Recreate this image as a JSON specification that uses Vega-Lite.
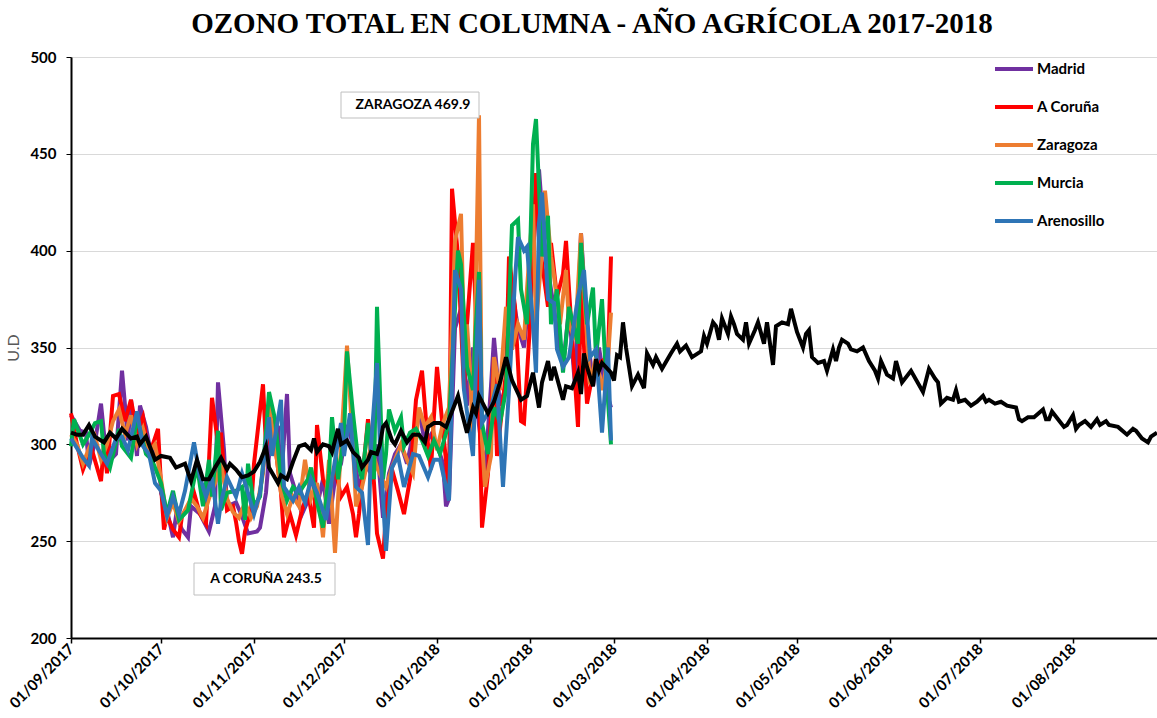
{
"$schema":"https://vega.github.io/schema/vega-lite/v6.json",
"width":1086,"height":581,
"autosize":{"type":"none"},
"padding":{"left":71,"top":57,"right":0,"bottom":80},
"background":"white",
"config":{"view":{"stroke":null},"font":"Lato"},
"title":{"text":"OZONO TOTAL EN COLUMNA - AÑO AGRÍCOLA 2017-2018","font":"Liberation Serif","fontSize":29,"fontWeight":"bold","color":"black","anchor":"middle","frame":"group","dx":-22,"offset":9},
"datasets":{
"cities":[
{"s":"Madrid","d":"2017-09-01","v":315},{"s":"Madrid","d":"2017-09-04","v":307},{"s":"Madrid","d":"2017-09-06","v":306},{"s":"Madrid","d":"2017-09-07","v":289},{"s":"Madrid","d":"2017-09-09","v":301},{"s":"Madrid","d":"2017-09-11","v":321},{"s":"Madrid","d":"2017-09-13","v":290},{"s":"Madrid","d":"2017-09-16","v":295},{"s":"Madrid","d":"2017-09-18","v":338},{"s":"Madrid","d":"2017-09-20","v":302},{"s":"Madrid","d":"2017-09-21","v":323},{"s":"Madrid","d":"2017-09-23","v":294},{"s":"Madrid","d":"2017-09-24","v":320},{"s":"Madrid","d":"2017-09-26","v":309},{"s":"Madrid","d":"2017-09-28","v":292},{"s":"Madrid","d":"2017-09-30","v":301},
{"s":"Madrid","d":"2017-10-01","v":275},{"s":"Madrid","d":"2017-10-03","v":266},{"s":"Madrid","d":"2017-10-05","v":252},{"s":"Madrid","d":"2017-10-06","v":263},{"s":"Madrid","d":"2017-10-08","v":256},{"s":"Madrid","d":"2017-10-10","v":252},{"s":"Madrid","d":"2017-10-11","v":268},{"s":"Madrid","d":"2017-10-14","v":264},{"s":"Madrid","d":"2017-10-17","v":255},{"s":"Madrid","d":"2017-10-19","v":268},{"s":"Madrid","d":"2017-10-20","v":332},{"s":"Madrid","d":"2017-10-22","v":297},{"s":"Madrid","d":"2017-10-23","v":268},{"s":"Madrid","d":"2017-10-26","v":270},{"s":"Madrid","d":"2017-10-28","v":263},{"s":"Madrid","d":"2017-10-30","v":254},
{"s":"Madrid","d":"2017-11-02","v":255},{"s":"Madrid","d":"2017-11-03","v":257},{"s":"Madrid","d":"2017-11-05","v":275},{"s":"Madrid","d":"2017-11-07","v":313},{"s":"Madrid","d":"2017-11-09","v":309},{"s":"Madrid","d":"2017-11-10","v":280},{"s":"Madrid","d":"2017-11-12","v":326},{"s":"Madrid","d":"2017-11-13","v":285},{"s":"Madrid","d":"2017-11-15","v":275},{"s":"Madrid","d":"2017-11-17","v":264},{"s":"Madrid","d":"2017-11-19","v":271},{"s":"Madrid","d":"2017-11-20","v":287},{"s":"Madrid","d":"2017-11-22","v":268},{"s":"Madrid","d":"2017-11-24","v":282},{"s":"Madrid","d":"2017-11-26","v":259},{"s":"Madrid","d":"2017-11-28","v":282},{"s":"Madrid","d":"2017-11-30","v":290},
{"s":"Madrid","d":"2017-12-02","v":310},{"s":"Madrid","d":"2017-12-04","v":300},{"s":"Madrid","d":"2017-12-06","v":276},{"s":"Madrid","d":"2017-12-08","v":290},{"s":"Madrid","d":"2017-12-10","v":285},{"s":"Madrid","d":"2017-12-12","v":300},{"s":"Madrid","d":"2017-12-14","v":262},{"s":"Madrid","d":"2017-12-16","v":285},{"s":"Madrid","d":"2017-12-18","v":295},{"s":"Madrid","d":"2017-12-20","v":300},{"s":"Madrid","d":"2017-12-22","v":290},{"s":"Madrid","d":"2017-12-24","v":305},{"s":"Madrid","d":"2017-12-26","v":318},{"s":"Madrid","d":"2017-12-28","v":300},{"s":"Madrid","d":"2017-12-30","v":305},
{"s":"Madrid","d":"2018-01-01","v":300},{"s":"Madrid","d":"2018-01-03","v":290},{"s":"Madrid","d":"2018-01-04","v":268},{"s":"Madrid","d":"2018-01-05","v":272},{"s":"Madrid","d":"2018-01-07","v":360},{"s":"Madrid","d":"2018-01-09","v":370},{"s":"Madrid","d":"2018-01-11","v":320},{"s":"Madrid","d":"2018-01-13","v":350},{"s":"Madrid","d":"2018-01-15","v":310},{"s":"Madrid","d":"2018-01-17","v":285},{"s":"Madrid","d":"2018-01-19","v":330},{"s":"Madrid","d":"2018-01-20","v":355},{"s":"Madrid","d":"2018-01-22","v":320},{"s":"Madrid","d":"2018-01-24","v":330},{"s":"Madrid","d":"2018-01-26","v":380},{"s":"Madrid","d":"2018-01-28","v":360},{"s":"Madrid","d":"2018-01-30","v":350},
{"s":"Madrid","d":"2018-02-01","v":380},{"s":"Madrid","d":"2018-02-03","v":420},{"s":"Madrid","d":"2018-02-04","v":442},{"s":"Madrid","d":"2018-02-06","v":400},{"s":"Madrid","d":"2018-02-08","v":380},{"s":"Madrid","d":"2018-02-10","v":360},{"s":"Madrid","d":"2018-02-12","v":340},{"s":"Madrid","d":"2018-02-14","v":370},{"s":"Madrid","d":"2018-02-16","v":330},{"s":"Madrid","d":"2018-02-18","v":409},{"s":"Madrid","d":"2018-02-20","v":360},{"s":"Madrid","d":"2018-02-22","v":330},{"s":"Madrid","d":"2018-02-24","v":350},{"s":"Madrid","d":"2018-02-26","v":330},{"s":"Madrid","d":"2018-02-28","v":319},
{"s":"A Coruña","d":"2017-09-01","v":316},{"s":"A Coruña","d":"2017-09-03","v":300},{"s":"A Coruña","d":"2017-09-05","v":287},{"s":"A Coruña","d":"2017-09-06","v":291},{"s":"A Coruña","d":"2017-09-08","v":297},{"s":"A Coruña","d":"2017-09-11","v":281},{"s":"A Coruña","d":"2017-09-12","v":300},{"s":"A Coruña","d":"2017-09-13","v":285},{"s":"A Coruña","d":"2017-09-15","v":325},{"s":"A Coruña","d":"2017-09-17","v":326},{"s":"A Coruña","d":"2017-09-19","v":312},{"s":"A Coruña","d":"2017-09-21","v":323},{"s":"A Coruña","d":"2017-09-23","v":306},{"s":"A Coruña","d":"2017-09-25","v":314},{"s":"A Coruña","d":"2017-09-27","v":294},{"s":"A Coruña","d":"2017-09-30","v":308},
{"s":"A Coruña","d":"2017-10-01","v":279},{"s":"A Coruña","d":"2017-10-02","v":256},{"s":"A Coruña","d":"2017-10-03","v":263},{"s":"A Coruña","d":"2017-10-05","v":256},{"s":"A Coruña","d":"2017-10-07","v":252},{"s":"A Coruña","d":"2017-10-08","v":263},{"s":"A Coruña","d":"2017-10-10","v":268},{"s":"A Coruña","d":"2017-10-12","v":275},{"s":"A Coruña","d":"2017-10-14","v":264},{"s":"A Coruña","d":"2017-10-16","v":259},{"s":"A Coruña","d":"2017-10-18","v":324},{"s":"A Coruña","d":"2017-10-20","v":300},{"s":"A Coruña","d":"2017-10-21","v":306},{"s":"A Coruña","d":"2017-10-23","v":266},{"s":"A Coruña","d":"2017-10-25","v":268},{"s":"A Coruña","d":"2017-10-26","v":260},{"s":"A Coruña","d":"2017-10-27","v":250},{"s":"A Coruña","d":"2017-10-28","v":243.5},{"s":"A Coruña","d":"2017-10-29","v":255},{"s":"A Coruña","d":"2017-10-31","v":266},
{"s":"A Coruña","d":"2017-11-01","v":290},{"s":"A Coruña","d":"2017-11-04","v":331},{"s":"A Coruña","d":"2017-11-05","v":299},{"s":"A Coruña","d":"2017-11-07","v":313},{"s":"A Coruña","d":"2017-11-10","v":275},{"s":"A Coruña","d":"2017-11-11","v":252},{"s":"A Coruña","d":"2017-11-13","v":264},{"s":"A Coruña","d":"2017-11-15","v":253},{"s":"A Coruña","d":"2017-11-17","v":266},{"s":"A Coruña","d":"2017-11-19","v":275},{"s":"A Coruña","d":"2017-11-21","v":257},{"s":"A Coruña","d":"2017-11-22","v":310},{"s":"A Coruña","d":"2017-11-24","v":282},{"s":"A Coruña","d":"2017-11-26","v":275},{"s":"A Coruña","d":"2017-11-28","v":288},{"s":"A Coruña","d":"2017-11-30","v":273},
{"s":"A Coruña","d":"2017-12-02","v":278},{"s":"A Coruña","d":"2017-12-04","v":264},{"s":"A Coruña","d":"2017-12-05","v":252},{"s":"A Coruña","d":"2017-12-06","v":264},{"s":"A Coruña","d":"2017-12-09","v":313},{"s":"A Coruña","d":"2017-12-11","v":280},{"s":"A Coruña","d":"2017-12-12","v":254},{"s":"A Coruña","d":"2017-12-14","v":241},{"s":"A Coruña","d":"2017-12-15","v":264},{"s":"A Coruña","d":"2017-12-17","v":287},{"s":"A Coruña","d":"2017-12-19","v":276},{"s":"A Coruña","d":"2017-12-21","v":264},{"s":"A Coruña","d":"2017-12-23","v":282},{"s":"A Coruña","d":"2017-12-25","v":323},{"s":"A Coruña","d":"2017-12-27","v":338},{"s":"A Coruña","d":"2017-12-29","v":300},{"s":"A Coruña","d":"2017-12-30","v":287},{"s":"A Coruña","d":"2017-12-31","v":315},
{"s":"A Coruña","d":"2018-01-01","v":340},{"s":"A Coruña","d":"2018-01-03","v":307},{"s":"A Coruña","d":"2018-01-05","v":276},{"s":"A Coruña","d":"2018-01-06","v":432},{"s":"A Coruña","d":"2018-01-08","v":397},{"s":"A Coruña","d":"2018-01-10","v":328},{"s":"A Coruña","d":"2018-01-11","v":362},{"s":"A Coruña","d":"2018-01-13","v":404},{"s":"A Coruña","d":"2018-01-15","v":328},{"s":"A Coruña","d":"2018-01-16","v":257},{"s":"A Coruña","d":"2018-01-18","v":285},{"s":"A Coruña","d":"2018-01-20","v":345},{"s":"A Coruña","d":"2018-01-21","v":294},{"s":"A Coruña","d":"2018-01-24","v":337},{"s":"A Coruña","d":"2018-01-25","v":397},{"s":"A Coruña","d":"2018-01-27","v":371},{"s":"A Coruña","d":"2018-01-29","v":312},{"s":"A Coruña","d":"2018-01-30","v":311},
{"s":"A Coruña","d":"2018-02-01","v":362},{"s":"A Coruña","d":"2018-02-03","v":440},{"s":"A Coruña","d":"2018-02-04","v":405},{"s":"A Coruña","d":"2018-02-07","v":371},{"s":"A Coruña","d":"2018-02-08","v":404},{"s":"A Coruña","d":"2018-02-10","v":376},{"s":"A Coruña","d":"2018-02-12","v":388},{"s":"A Coruña","d":"2018-02-13","v":405},{"s":"A Coruña","d":"2018-02-14","v":380},{"s":"A Coruña","d":"2018-02-17","v":309},{"s":"A Coruña","d":"2018-02-18","v":380},{"s":"A Coruña","d":"2018-02-20","v":321},{"s":"A Coruña","d":"2018-02-22","v":337},{"s":"A Coruña","d":"2018-02-24","v":342},{"s":"A Coruña","d":"2018-02-27","v":345},{"s":"A Coruña","d":"2018-02-28","v":397},
{"s":"Zaragoza","d":"2017-09-01","v":305},{"s":"Zaragoza","d":"2017-09-03","v":300},{"s":"Zaragoza","d":"2017-09-05","v":290},{"s":"Zaragoza","d":"2017-09-07","v":298},{"s":"Zaragoza","d":"2017-09-09","v":304},{"s":"Zaragoza","d":"2017-09-11","v":292},{"s":"Zaragoza","d":"2017-09-13","v":300},{"s":"Zaragoza","d":"2017-09-15","v":312},{"s":"Zaragoza","d":"2017-09-17","v":318},{"s":"Zaragoza","d":"2017-09-19","v":305},{"s":"Zaragoza","d":"2017-09-21","v":315},{"s":"Zaragoza","d":"2017-09-23","v":300},{"s":"Zaragoza","d":"2017-09-25","v":308},{"s":"Zaragoza","d":"2017-09-27","v":296},{"s":"Zaragoza","d":"2017-09-29","v":300},
{"s":"Zaragoza","d":"2017-10-01","v":282},{"s":"Zaragoza","d":"2017-10-03","v":262},{"s":"Zaragoza","d":"2017-10-05","v":270},{"s":"Zaragoza","d":"2017-10-07","v":260},{"s":"Zaragoza","d":"2017-10-09","v":266},{"s":"Zaragoza","d":"2017-10-11","v":272},{"s":"Zaragoza","d":"2017-10-13","v":268},{"s":"Zaragoza","d":"2017-10-15","v":262},{"s":"Zaragoza","d":"2017-10-17","v":272},{"s":"Zaragoza","d":"2017-10-19","v":280},{"s":"Zaragoza","d":"2017-10-21","v":290},{"s":"Zaragoza","d":"2017-10-23","v":272},{"s":"Zaragoza","d":"2017-10-25","v":265},{"s":"Zaragoza","d":"2017-10-27","v":262},{"s":"Zaragoza","d":"2017-10-29","v":270},{"s":"Zaragoza","d":"2017-10-31","v":262},
{"s":"Zaragoza","d":"2017-11-02","v":268},{"s":"Zaragoza","d":"2017-11-04","v":285},{"s":"Zaragoza","d":"2017-11-06","v":320},{"s":"Zaragoza","d":"2017-11-08","v":300},{"s":"Zaragoza","d":"2017-11-10","v":275},{"s":"Zaragoza","d":"2017-11-12","v":264},{"s":"Zaragoza","d":"2017-11-14","v":273},{"s":"Zaragoza","d":"2017-11-16","v":268},{"s":"Zaragoza","d":"2017-11-18","v":292},{"s":"Zaragoza","d":"2017-11-20","v":272},{"s":"Zaragoza","d":"2017-11-22","v":280},{"s":"Zaragoza","d":"2017-11-24","v":252},{"s":"Zaragoza","d":"2017-11-26","v":292},{"s":"Zaragoza","d":"2017-11-28","v":244},{"s":"Zaragoza","d":"2017-11-30","v":299},
{"s":"Zaragoza","d":"2017-12-02","v":351},{"s":"Zaragoza","d":"2017-12-04","v":299},{"s":"Zaragoza","d":"2017-12-05","v":268},{"s":"Zaragoza","d":"2017-12-07","v":278},{"s":"Zaragoza","d":"2017-12-10","v":299},{"s":"Zaragoza","d":"2017-12-12","v":288},{"s":"Zaragoza","d":"2017-12-15","v":278},{"s":"Zaragoza","d":"2017-12-17","v":288},{"s":"Zaragoza","d":"2017-12-20","v":300},{"s":"Zaragoza","d":"2017-12-22","v":292},{"s":"Zaragoza","d":"2017-12-24","v":285},{"s":"Zaragoza","d":"2017-12-26","v":319},{"s":"Zaragoza","d":"2017-12-28","v":309},{"s":"Zaragoza","d":"2017-12-30","v":314},
{"s":"Zaragoza","d":"2018-01-01","v":297},{"s":"Zaragoza","d":"2018-01-03","v":311},{"s":"Zaragoza","d":"2018-01-05","v":319},{"s":"Zaragoza","d":"2018-01-07","v":405},{"s":"Zaragoza","d":"2018-01-09","v":419},{"s":"Zaragoza","d":"2018-01-10","v":354},{"s":"Zaragoza","d":"2018-01-11","v":362},{"s":"Zaragoza","d":"2018-01-12","v":338},{"s":"Zaragoza","d":"2018-01-13","v":302},{"s":"Zaragoza","d":"2018-01-15","v":469.9},{"s":"Zaragoza","d":"2018-01-16","v":302},{"s":"Zaragoza","d":"2018-01-17","v":278},{"s":"Zaragoza","d":"2018-01-19","v":294},{"s":"Zaragoza","d":"2018-01-20","v":345},{"s":"Zaragoza","d":"2018-01-22","v":328},{"s":"Zaragoza","d":"2018-01-24","v":371},{"s":"Zaragoza","d":"2018-01-26","v":349},{"s":"Zaragoza","d":"2018-01-28","v":362},{"s":"Zaragoza","d":"2018-01-30","v":354},{"s":"Zaragoza","d":"2018-01-31","v":380},
{"s":"Zaragoza","d":"2018-02-02","v":424},{"s":"Zaragoza","d":"2018-02-03","v":362},{"s":"Zaragoza","d":"2018-02-05","v":400},{"s":"Zaragoza","d":"2018-02-06","v":431},{"s":"Zaragoza","d":"2018-02-08","v":397},{"s":"Zaragoza","d":"2018-02-09","v":387},{"s":"Zaragoza","d":"2018-02-11","v":362},{"s":"Zaragoza","d":"2018-02-13","v":390},{"s":"Zaragoza","d":"2018-02-14","v":362},{"s":"Zaragoza","d":"2018-02-16","v":354},{"s":"Zaragoza","d":"2018-02-18","v":409},{"s":"Zaragoza","d":"2018-02-19","v":380},{"s":"Zaragoza","d":"2018-02-21","v":331},{"s":"Zaragoza","d":"2018-02-23","v":345},{"s":"Zaragoza","d":"2018-02-25","v":328},{"s":"Zaragoza","d":"2018-02-27","v":344},{"s":"Zaragoza","d":"2018-02-28","v":368},
{"s":"Murcia","d":"2017-09-01","v":299},{"s":"Murcia","d":"2017-09-02","v":313},{"s":"Murcia","d":"2017-09-05","v":300},{"s":"Murcia","d":"2017-09-07","v":305},{"s":"Murcia","d":"2017-09-09","v":311},{"s":"Murcia","d":"2017-09-11","v":312},{"s":"Murcia","d":"2017-09-12","v":295},{"s":"Murcia","d":"2017-09-14","v":288},{"s":"Murcia","d":"2017-09-17","v":308},{"s":"Murcia","d":"2017-09-18","v":299},{"s":"Murcia","d":"2017-09-21","v":293},{"s":"Murcia","d":"2017-09-23","v":314},{"s":"Murcia","d":"2017-09-26","v":295},{"s":"Murcia","d":"2017-09-28","v":292},
{"s":"Murcia","d":"2017-10-01","v":280},{"s":"Murcia","d":"2017-10-03","v":264},{"s":"Murcia","d":"2017-10-05","v":276},{"s":"Murcia","d":"2017-10-07","v":261},{"s":"Murcia","d":"2017-10-10","v":266},{"s":"Murcia","d":"2017-10-13","v":289},{"s":"Murcia","d":"2017-10-15","v":268},{"s":"Murcia","d":"2017-10-17","v":292},{"s":"Murcia","d":"2017-10-18","v":273},{"s":"Murcia","d":"2017-10-20","v":307},{"s":"Murcia","d":"2017-10-21","v":266},{"s":"Murcia","d":"2017-10-23","v":275},{"s":"Murcia","d":"2017-10-26","v":276},{"s":"Murcia","d":"2017-10-28","v":278},{"s":"Murcia","d":"2017-10-29","v":261},{"s":"Murcia","d":"2017-10-30","v":290},
{"s":"Murcia","d":"2017-11-01","v":268},{"s":"Murcia","d":"2017-11-03","v":273},{"s":"Murcia","d":"2017-11-05","v":306},{"s":"Murcia","d":"2017-11-06","v":327},{"s":"Murcia","d":"2017-11-08","v":313},{"s":"Murcia","d":"2017-11-10","v":282},{"s":"Murcia","d":"2017-11-12","v":271},{"s":"Murcia","d":"2017-11-14","v":278},{"s":"Murcia","d":"2017-11-16","v":275},{"s":"Murcia","d":"2017-11-19","v":282},{"s":"Murcia","d":"2017-11-20","v":288},{"s":"Murcia","d":"2017-11-22","v":270},{"s":"Murcia","d":"2017-11-24","v":257},{"s":"Murcia","d":"2017-11-26","v":285},{"s":"Murcia","d":"2017-11-27","v":314},{"s":"Murcia","d":"2017-11-29","v":282},
{"s":"Murcia","d":"2017-12-01","v":304},{"s":"Murcia","d":"2017-12-02","v":348},{"s":"Murcia","d":"2017-12-04","v":316},{"s":"Murcia","d":"2017-12-06","v":288},{"s":"Murcia","d":"2017-12-07","v":282},{"s":"Murcia","d":"2017-12-09","v":311},{"s":"Murcia","d":"2017-12-11","v":282},{"s":"Murcia","d":"2017-12-12","v":371},{"s":"Murcia","d":"2017-12-14","v":282},{"s":"Murcia","d":"2017-12-15","v":295},{"s":"Murcia","d":"2017-12-16","v":318},{"s":"Murcia","d":"2017-12-18","v":307},{"s":"Murcia","d":"2017-12-20","v":314},{"s":"Murcia","d":"2017-12-21","v":299},{"s":"Murcia","d":"2017-12-23","v":306},{"s":"Murcia","d":"2017-12-25","v":308},{"s":"Murcia","d":"2017-12-27","v":302},{"s":"Murcia","d":"2017-12-29","v":294},{"s":"Murcia","d":"2017-12-31","v":302},
{"s":"Murcia","d":"2018-01-02","v":295},{"s":"Murcia","d":"2018-01-05","v":311},{"s":"Murcia","d":"2018-01-08","v":400},{"s":"Murcia","d":"2018-01-09","v":393},{"s":"Murcia","d":"2018-01-11","v":340},{"s":"Murcia","d":"2018-01-13","v":328},{"s":"Murcia","d":"2018-01-14","v":362},{"s":"Murcia","d":"2018-01-15","v":389},{"s":"Murcia","d":"2018-01-16","v":311},{"s":"Murcia","d":"2018-01-18","v":295},{"s":"Murcia","d":"2018-01-20","v":319},{"s":"Murcia","d":"2018-01-22","v":311},{"s":"Murcia","d":"2018-01-24","v":328},{"s":"Murcia","d":"2018-01-26","v":413},{"s":"Murcia","d":"2018-01-28","v":416},{"s":"Murcia","d":"2018-01-29","v":380},{"s":"Murcia","d":"2018-01-31","v":362},
{"s":"Murcia","d":"2018-02-01","v":397},{"s":"Murcia","d":"2018-02-02","v":455},{"s":"Murcia","d":"2018-02-03","v":468},{"s":"Murcia","d":"2018-02-05","v":397},{"s":"Murcia","d":"2018-02-07","v":418},{"s":"Murcia","d":"2018-02-08","v":362},{"s":"Murcia","d":"2018-02-10","v":380},{"s":"Murcia","d":"2018-02-12","v":337},{"s":"Murcia","d":"2018-02-14","v":371},{"s":"Murcia","d":"2018-02-17","v":352},{"s":"Murcia","d":"2018-02-18","v":404},{"s":"Murcia","d":"2018-02-20","v":362},{"s":"Murcia","d":"2018-02-22","v":381},{"s":"Murcia","d":"2018-02-23","v":345},{"s":"Murcia","d":"2018-02-25","v":375},{"s":"Murcia","d":"2018-02-26","v":345},{"s":"Murcia","d":"2018-02-28","v":300},
{"s":"Arenosillo","d":"2017-09-01","v":303},{"s":"Arenosillo","d":"2017-09-05","v":293},{"s":"Arenosillo","d":"2017-09-07","v":289},{"s":"Arenosillo","d":"2017-09-08","v":303},{"s":"Arenosillo","d":"2017-09-11","v":295},{"s":"Arenosillo","d":"2017-09-13","v":290},{"s":"Arenosillo","d":"2017-09-16","v":303},{"s":"Arenosillo","d":"2017-09-18","v":304},{"s":"Arenosillo","d":"2017-09-20","v":297},{"s":"Arenosillo","d":"2017-09-23","v":317},{"s":"Arenosillo","d":"2017-09-25","v":299},{"s":"Arenosillo","d":"2017-09-27","v":295},{"s":"Arenosillo","d":"2017-09-29","v":280},
{"s":"Arenosillo","d":"2017-10-01","v":276},{"s":"Arenosillo","d":"2017-10-03","v":263},{"s":"Arenosillo","d":"2017-10-05","v":273},{"s":"Arenosillo","d":"2017-10-07","v":264},{"s":"Arenosillo","d":"2017-10-09","v":276},{"s":"Arenosillo","d":"2017-10-12","v":301},{"s":"Arenosillo","d":"2017-10-14","v":283},{"s":"Arenosillo","d":"2017-10-16","v":273},{"s":"Arenosillo","d":"2017-10-18","v":283},{"s":"Arenosillo","d":"2017-10-20","v":259},{"s":"Arenosillo","d":"2017-10-21","v":270},{"s":"Arenosillo","d":"2017-10-23","v":283},{"s":"Arenosillo","d":"2017-10-26","v":273},{"s":"Arenosillo","d":"2017-10-28","v":285},{"s":"Arenosillo","d":"2017-10-30","v":275},
{"s":"Arenosillo","d":"2017-11-01","v":264},{"s":"Arenosillo","d":"2017-11-03","v":275},{"s":"Arenosillo","d":"2017-11-06","v":314},{"s":"Arenosillo","d":"2017-11-07","v":294},{"s":"Arenosillo","d":"2017-11-10","v":323},{"s":"Arenosillo","d":"2017-11-11","v":278},{"s":"Arenosillo","d":"2017-11-14","v":271},{"s":"Arenosillo","d":"2017-11-16","v":278},{"s":"Arenosillo","d":"2017-11-18","v":270},{"s":"Arenosillo","d":"2017-11-20","v":282},{"s":"Arenosillo","d":"2017-11-22","v":275},{"s":"Arenosillo","d":"2017-11-25","v":261},{"s":"Arenosillo","d":"2017-11-27","v":282},{"s":"Arenosillo","d":"2017-11-30","v":311},
{"s":"Arenosillo","d":"2017-12-01","v":294},{"s":"Arenosillo","d":"2017-12-03","v":316},{"s":"Arenosillo","d":"2017-12-05","v":278},{"s":"Arenosillo","d":"2017-12-07","v":275},{"s":"Arenosillo","d":"2017-12-09","v":248},{"s":"Arenosillo","d":"2017-12-10","v":299},{"s":"Arenosillo","d":"2017-12-12","v":342},{"s":"Arenosillo","d":"2017-12-13","v":299},{"s":"Arenosillo","d":"2017-12-15","v":245},{"s":"Arenosillo","d":"2017-12-17","v":288},{"s":"Arenosillo","d":"2017-12-19","v":294},{"s":"Arenosillo","d":"2017-12-21","v":278},{"s":"Arenosillo","d":"2017-12-24","v":295},{"s":"Arenosillo","d":"2017-12-26","v":294},{"s":"Arenosillo","d":"2017-12-29","v":283},{"s":"Arenosillo","d":"2017-12-31","v":292},
{"s":"Arenosillo","d":"2018-01-02","v":292},{"s":"Arenosillo","d":"2018-01-04","v":278},{"s":"Arenosillo","d":"2018-01-05","v":271},{"s":"Arenosillo","d":"2018-01-07","v":390},{"s":"Arenosillo","d":"2018-01-09","v":380},{"s":"Arenosillo","d":"2018-01-10","v":328},{"s":"Arenosillo","d":"2018-01-13","v":294},{"s":"Arenosillo","d":"2018-01-15","v":385},{"s":"Arenosillo","d":"2018-01-16","v":311},{"s":"Arenosillo","d":"2018-01-19","v":319},{"s":"Arenosillo","d":"2018-01-21","v":331},{"s":"Arenosillo","d":"2018-01-23","v":278},{"s":"Arenosillo","d":"2018-01-25","v":328},{"s":"Arenosillo","d":"2018-01-27","v":385},{"s":"Arenosillo","d":"2018-01-28","v":407},{"s":"Arenosillo","d":"2018-01-30","v":400},{"s":"Arenosillo","d":"2018-01-31","v":402},
{"s":"Arenosillo","d":"2018-02-02","v":362},{"s":"Arenosillo","d":"2018-02-03","v":337},{"s":"Arenosillo","d":"2018-02-04","v":414},{"s":"Arenosillo","d":"2018-02-05","v":430},{"s":"Arenosillo","d":"2018-02-07","v":375},{"s":"Arenosillo","d":"2018-02-09","v":373},{"s":"Arenosillo","d":"2018-02-10","v":349},{"s":"Arenosillo","d":"2018-02-12","v":340},{"s":"Arenosillo","d":"2018-02-14","v":345},{"s":"Arenosillo","d":"2018-02-17","v":376},{"s":"Arenosillo","d":"2018-02-19","v":390},{"s":"Arenosillo","d":"2018-02-21","v":345},{"s":"Arenosillo","d":"2018-02-23","v":349},{"s":"Arenosillo","d":"2018-02-25","v":306},{"s":"Arenosillo","d":"2018-02-27","v":350},{"s":"Arenosillo","d":"2018-02-28","v":302}
],
"media":[
{"d":"2017-09-01","v":306},{"d":"2017-09-03","v":305},{"d":"2017-09-05","v":305},{"d":"2017-09-07","v":310},{"d":"2017-09-09","v":304},{"d":"2017-09-12","v":301},{"d":"2017-09-14","v":306},{"d":"2017-09-16","v":303},{"d":"2017-09-18","v":308},{"d":"2017-09-21","v":303},{"d":"2017-09-23","v":304},{"d":"2017-09-24","v":300},{"d":"2017-09-26","v":304},{"d":"2017-09-27","v":300},{"d":"2017-09-29","v":292},
{"d":"2017-10-01","v":294},{"d":"2017-10-04","v":293},{"d":"2017-10-06","v":288},{"d":"2017-10-09","v":290},{"d":"2017-10-11","v":281},{"d":"2017-10-13","v":292},{"d":"2017-10-15","v":282},{"d":"2017-10-17","v":282},{"d":"2017-10-19","v":288},{"d":"2017-10-21","v":293},{"d":"2017-10-23","v":287},{"d":"2017-10-24","v":290},{"d":"2017-10-26","v":287},{"d":"2017-10-28","v":283},{"d":"2017-10-30","v":284},
{"d":"2017-11-01","v":286},{"d":"2017-11-03","v":291},{"d":"2017-11-05","v":299},{"d":"2017-11-06","v":288},{"d":"2017-11-09","v":280},{"d":"2017-11-10","v":284},{"d":"2017-11-12","v":282},{"d":"2017-11-14","v":291},{"d":"2017-11-16","v":299},{"d":"2017-11-18","v":300},{"d":"2017-11-20","v":297},{"d":"2017-11-21","v":303},{"d":"2017-11-22","v":296},{"d":"2017-11-24","v":300},{"d":"2017-11-26","v":299},{"d":"2017-11-27","v":296},{"d":"2017-11-29","v":308},{"d":"2017-11-30","v":300},
{"d":"2017-12-02","v":302},{"d":"2017-12-04","v":296},{"d":"2017-12-06","v":293},{"d":"2017-12-07","v":288},{"d":"2017-12-09","v":292},{"d":"2017-12-10","v":296},{"d":"2017-12-12","v":295},{"d":"2017-12-13","v":300},{"d":"2017-12-14","v":309},{"d":"2017-12-15","v":311},{"d":"2017-12-17","v":302},{"d":"2017-12-18","v":300},{"d":"2017-12-20","v":307},{"d":"2017-12-21","v":304},{"d":"2017-12-22","v":301},{"d":"2017-12-24","v":305},{"d":"2017-12-26","v":305},{"d":"2017-12-28","v":301},{"d":"2017-12-29","v":309},{"d":"2017-12-31","v":311},
{"d":"2018-01-02","v":311},{"d":"2018-01-04","v":309},{"d":"2018-01-08","v":325},{"d":"2018-01-09","v":318},{"d":"2018-01-11","v":306},{"d":"2018-01-13","v":319},{"d":"2018-01-14","v":316},{"d":"2018-01-15","v":325},{"d":"2018-01-18","v":316},{"d":"2018-01-20","v":322},{"d":"2018-01-22","v":332},{"d":"2018-01-24","v":345},{"d":"2018-01-26","v":333},{"d":"2018-01-29","v":323},{"d":"2018-01-31","v":325},
{"d":"2018-02-02","v":337},{"d":"2018-02-04","v":319},{"d":"2018-02-05","v":332},{"d":"2018-02-07","v":343},{"d":"2018-02-08","v":333},{"d":"2018-02-09","v":340},{"d":"2018-02-12","v":323},{"d":"2018-02-13","v":330},{"d":"2018-02-15","v":329},{"d":"2018-02-17","v":337},{"d":"2018-02-18","v":326},{"d":"2018-02-19","v":347},{"d":"2018-02-20","v":340},{"d":"2018-02-22","v":330},{"d":"2018-02-23","v":344},{"d":"2018-02-24","v":338},{"d":"2018-02-25","v":342},{"d":"2018-02-28","v":337},
{"d":"2018-03-01","v":333},{"d":"2018-03-02","v":346},{"d":"2018-03-03","v":345},{"d":"2018-03-04","v":363},{"d":"2018-03-05","v":350},{"d":"2018-03-07","v":330},{"d":"2018-03-09","v":336},{"d":"2018-03-11","v":329},{"d":"2018-03-12","v":347},{"d":"2018-03-14","v":341},{"d":"2018-03-15","v":345},{"d":"2018-03-16","v":342},{"d":"2018-03-17","v":339},{"d":"2018-03-20","v":347},{"d":"2018-03-22","v":352},{"d":"2018-03-23","v":348},{"d":"2018-03-25","v":351},{"d":"2018-03-27","v":345},{"d":"2018-03-30","v":348},{"d":"2018-03-31","v":356},
{"d":"2018-04-01","v":352},{"d":"2018-04-03","v":363},{"d":"2018-04-04","v":361},{"d":"2018-04-05","v":354},{"d":"2018-04-06","v":365},{"d":"2018-04-08","v":357},{"d":"2018-04-09","v":366},{"d":"2018-04-10","v":362},{"d":"2018-04-11","v":357},{"d":"2018-04-13","v":354},{"d":"2018-04-14","v":363},{"d":"2018-04-15","v":352},{"d":"2018-04-17","v":359},{"d":"2018-04-18","v":363},{"d":"2018-04-20","v":352},{"d":"2018-04-21","v":363},{"d":"2018-04-23","v":341},{"d":"2018-04-24","v":361},{"d":"2018-04-26","v":363},{"d":"2018-04-28","v":362},{"d":"2018-04-29","v":370},{"d":"2018-04-30","v":364},
{"d":"2018-05-01","v":358},{"d":"2018-05-03","v":350},{"d":"2018-05-04","v":357},{"d":"2018-05-05","v":359},{"d":"2018-05-06","v":345},{"d":"2018-05-08","v":342},{"d":"2018-05-10","v":343},{"d":"2018-05-11","v":338},{"d":"2018-05-13","v":349},{"d":"2018-05-14","v":343},{"d":"2018-05-15","v":350},{"d":"2018-05-16","v":354},{"d":"2018-05-18","v":352},{"d":"2018-05-19","v":349},{"d":"2018-05-21","v":348},{"d":"2018-05-23","v":350},{"d":"2018-05-25","v":343},{"d":"2018-05-27","v":338},{"d":"2018-05-28","v":334},{"d":"2018-05-29","v":343},{"d":"2018-05-31","v":336},
{"d":"2018-06-02","v":334},{"d":"2018-06-03","v":343},{"d":"2018-06-05","v":332},{"d":"2018-06-08","v":338},{"d":"2018-06-12","v":327},{"d":"2018-06-14","v":339},{"d":"2018-06-16","v":334},{"d":"2018-06-17","v":332},{"d":"2018-06-18","v":321},{"d":"2018-06-20","v":324},{"d":"2018-06-22","v":323},{"d":"2018-06-23","v":328},{"d":"2018-06-24","v":322},{"d":"2018-06-26","v":323},{"d":"2018-06-28","v":320},{"d":"2018-06-30","v":322},
{"d":"2018-07-02","v":325},{"d":"2018-07-03","v":322},{"d":"2018-07-04","v":323},{"d":"2018-07-06","v":321},{"d":"2018-07-08","v":322},{"d":"2018-07-10","v":320},{"d":"2018-07-13","v":319},{"d":"2018-07-14","v":313},{"d":"2018-07-15","v":312},{"d":"2018-07-17","v":314},{"d":"2018-07-19","v":314},{"d":"2018-07-22","v":318},{"d":"2018-07-23","v":313},{"d":"2018-07-24","v":313},{"d":"2018-07-25","v":317},{"d":"2018-07-27","v":313},{"d":"2018-07-29","v":309},{"d":"2018-07-30","v":310},
{"d":"2018-08-01","v":315},{"d":"2018-08-02","v":308},{"d":"2018-08-03","v":310},{"d":"2018-08-05","v":312},{"d":"2018-08-07","v":309},{"d":"2018-08-09","v":313},{"d":"2018-08-10","v":310},{"d":"2018-08-12","v":312},{"d":"2018-08-13","v":310},{"d":"2018-08-16","v":309},{"d":"2018-08-19","v":305},{"d":"2018-08-21","v":308},{"d":"2018-08-22","v":307},{"d":"2018-08-24","v":303},{"d":"2018-08-26","v":301},{"d":"2018-08-27","v":304},{"d":"2018-08-29","v":306}
],
"notes":[
{"label":"ZARAGOZA 469.9","d1":"2017-11-30","d2":"2018-01-15","v1":468.5,"v2":481.9,"dm":"2017-12-24","vm":475.2},
{"label":"A CORUÑA 243.5","d1":"2017-10-12","d2":"2017-11-28","v1":222.2,"v2":238.7,"dm":"2017-11-05","vm":230.5}
]
},
"layer":[
{"data":{"name":"cities"},
 "mark":{"type":"line","strokeWidth":4,"interpolate":"linear"},
 "encoding":{
  "x":{"field":"d","type":"temporal","title":null,
   "scale":{"type":"utc","domain":[{"year":2017,"month":9,"date":1,"utc":true},{"year":2018,"month":8,"date":29,"utc":true}]},
   "axis":{"values":[{"year":2017,"month":9,"date":1,"utc":true},{"year":2017,"month":10,"date":1,"utc":true},{"year":2017,"month":11,"date":1,"utc":true},{"year":2017,"month":12,"date":1,"utc":true},{"year":2018,"month":1,"date":1,"utc":true},{"year":2018,"month":2,"date":1,"utc":true},{"year":2018,"month":3,"date":1,"utc":true},{"year":2018,"month":4,"date":1,"utc":true},{"year":2018,"month":5,"date":1,"utc":true},{"year":2018,"month":6,"date":1,"utc":true},{"year":2018,"month":7,"date":1,"utc":true},{"year":2018,"month":8,"date":1,"utc":true}],
    "format":"%d/%m/%Y","labelAngle":-45,"labelAlign":"right","labelBaseline":"middle","labelFont":"Lato","labelFontSize":15,"labelFontWeight":"bold","labelColor":"black","labelPadding":3,"labelOverlap":false,"labelFlush":false,"grid":false,"domainColor":"black","domainWidth":2,"tickColor":"black","tickSize":5,"tickWidth":1.5}},
  "y":{"field":"v","type":"quantitative","title":"U.D",
   "scale":{"domain":[200,500],"nice":false,"zero":false},
   "axis":{"values":[200,250,300,350,400,450,500],"labelFont":"Lato","labelFontSize":15,"labelFontWeight":"bold","labelColor":"black","labelPadding":10,"grid":true,"gridColor":"#D9D9D9","gridWidth":1,"domainColor":"black","domainWidth":2,"tickColor":"black","tickSize":5,"tickWidth":1,"titleFont":"Lato","titleFontSize":16,"titleFontWeight":"normal","titleColor":"#595959","titlePadding":8}},
  "color":{"field":"s","type":"nominal",
   "scale":{"domain":["Madrid","A Coruña","Zaragoza","Murcia","Arenosillo"],"range":["#7030A0","#FF0000","#ED7D31","#00B050","#2E75B6"]},
   "legend":{"title":null,"orient":"none","legendX":922,"legendY":-9,"direction":"vertical","symbolType":"stroke","symbolSize":1444,"symbolStrokeWidth":4,"rowPadding":9,"padding":0,"labelFont":"Lato","labelFontSize":15,"labelFontWeight":"bold","labelColor":"black","labelOffset":2}}
 }},
{"data":{"name":"media"},
 "mark":{"type":"line","strokeWidth":4,"color":"black"},
 "encoding":{"x":{"field":"d","type":"temporal","title":null},"y":{"field":"v","type":"quantitative","title":"U.D"}}},
{"data":{"name":"notes"},
 "mark":{"type":"rect","fill":"white","stroke":"#BFBFBF","strokeWidth":1},
 "encoding":{"x":{"field":"d1","type":"temporal","title":null},"x2":{"field":"d2"},"y":{"field":"v1","type":"quantitative","title":"U.D"},"y2":{"field":"v2"}}},
{"data":{"name":"notes"},
 "mark":{"type":"text","font":"Lato","fontSize":14,"fontWeight":"bold","color":"black","align":"center","baseline":"middle"},
 "encoding":{"x":{"field":"dm","type":"temporal","title":null},"y":{"field":"vm","type":"quantitative","title":"U.D"},"text":{"field":"label"}}}
]
}
